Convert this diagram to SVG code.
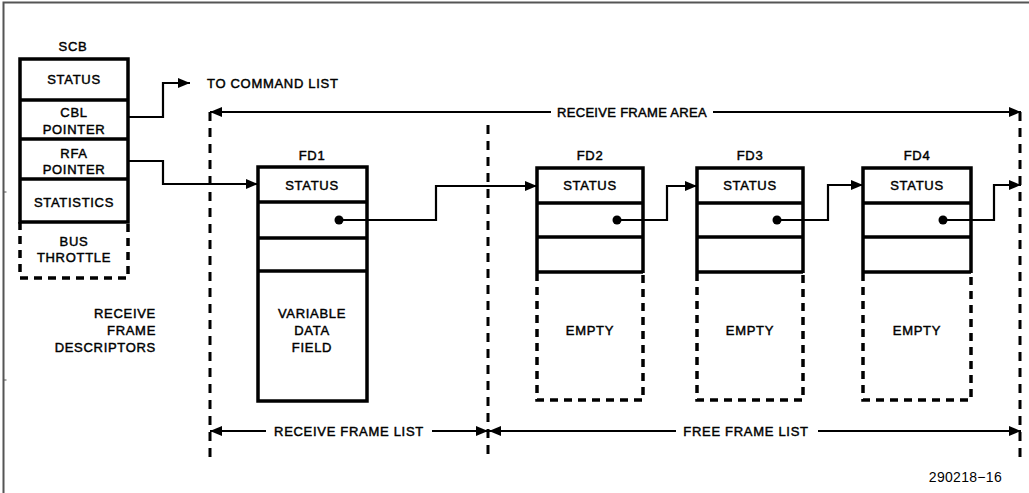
<svg xmlns="http://www.w3.org/2000/svg" width="1029" height="493" viewBox="0 0 1029 493">
<style>
text{font-family:"Liberation Sans",Arial,sans-serif;font-size:13px;fill:#000;stroke:#000;stroke-width:0.45;letter-spacing:0.7px}
.c{text-anchor:middle}
.r{text-anchor:end}
.t{letter-spacing:0.3px}
.n{stroke:none;letter-spacing:0.3px;font-size:14px}
.box{fill:none;stroke:#000;stroke-width:3.5}
.dbox{fill:none;stroke:#000;stroke-width:3.5;stroke-dasharray:8,6}
.vd{fill:none;stroke:#000;stroke-width:3;stroke-dasharray:9,7}
.ln{fill:none;stroke:#000;stroke-width:2.2}
.lna{fill:none;stroke:#000;stroke-width:2.2;marker-end:url(#ah)}
</style>
<defs>
<marker id="ah" markerUnits="userSpaceOnUse" markerWidth="12" markerHeight="10" refX="12" refY="5" orient="auto"><path d="M0,0 L12,5 L0,10 Z" fill="#000"/></marker>
<marker id="ahs" markerUnits="userSpaceOnUse" markerWidth="12" markerHeight="10" refX="0" refY="5" orient="auto"><path d="M12,0 L0,5 L12,10 Z" fill="#000"/></marker>
</defs>
<rect width="1029" height="493" fill="#fff"/>
<g id="frame" fill="none" stroke="#555" stroke-width="2">
<path d="M1029,2.5 H3.5 V493"/>
<path d="M3.5,192 h3 M3.5,380 h3" stroke-width="1"/>
</g>
<g id="scb">
<text class="c" x="73" y="51">SCB</text>
<rect class="box" x="20" y="59" width="108" height="163"/>
<path class="box" d="M20,100 H128 M20,139 H128 M20,179 H128"/>
<path class="dbox" d="M20,222 V278 H128 V222"/>
<text class="c" x="74" y="84">STATUS</text>
<text class="c" x="74" y="117">CBL</text>
<text class="c" x="74" y="134">POINTER</text>
<text class="c" x="74" y="158">RFA</text>
<text class="c" x="74" y="174">POINTER</text>
<text class="c" x="74" y="207">STATISTICS</text>
<text class="c" x="74" y="246">BUS</text>
<text class="c" x="74" y="262">THROTTLE</text>
</g>
<g id="labels">
<text x="207" y="88">TO COMMAND LIST</text>
<text class="r" x="156" y="318">RECEIVE</text>
<text class="r" x="156" y="335">FRAME</text>
<text class="r" x="156" y="352">DESCRIPTORS</text>
<text class="c t" x="632" y="117">RECEIVE FRAME AREA</text>
<text class="c" x="349" y="436">RECEIVE FRAME LIST</text>
<text class="c" x="746" y="436">FREE FRAME LIST</text>
<text class="r n" x="1002" y="482">290218−16</text>
</g>
<g id="fd1">
<text class="c" x="312" y="160">FD1</text>
<rect class="box" x="258" y="167" width="109" height="234"/>
<path class="box" d="M258,202 H367 M258,238 H367 M258,271 H367"/>
<text class="c" x="312" y="190">STATUS</text>
<circle cx="339" cy="220" r="4.5"/>
<text class="c" x="312" y="318">VARIABLE</text>
<text class="c" x="312" y="335">DATA</text>
<text class="c" x="312" y="352">FIELD</text>
</g>
<g id="fd2">
<text class="c" x="590" y="160">FD2</text>
<path class="box" d="M537,273 V168 H643 V273 M537,203 H643 M537,237 H643 M537,272 H643"/>
<path class="dbox" d="M537,273 V400 H643 V273"/>
<text class="c" x="590" y="190">STATUS</text>
<circle cx="617" cy="220" r="4.5"/>
<text class="c" x="590" y="335">EMPTY</text>
</g>
<g id="fd3">
<text class="c" x="750" y="160">FD3</text>
<path class="box" d="M697,273 V168 H803 V273 M697,203 H803 M697,237 H803 M697,272 H803"/>
<path class="dbox" d="M697,273 V400 H803 V273"/>
<text class="c" x="750" y="190">STATUS</text>
<circle cx="777" cy="220" r="4.5"/>
<text class="c" x="750" y="335">EMPTY</text>
</g>
<g id="fd4">
<text class="c" x="917" y="160">FD4</text>
<path class="box" d="M863,273 V168 H971 V273 M863,203 H971 M863,237 H971 M863,272 H971"/>
<path class="dbox" d="M863,273 V400 H971 V273"/>
<text class="c" x="917" y="190">STATUS</text>
<circle cx="943" cy="220" r="4.5"/>
<text class="c" x="917" y="335">EMPTY</text>
</g>
<g id="connectors">
<path class="vd" d="M210,112 V460"/>
<path class="vd" d="M488,125 V460"/>
<path class="vd" d="M1020,112 V460"/>
<path class="lna" d="M128,117 H163 V83 H190"/>
<path class="lna" d="M128,161 H163 V184 H258"/>
<path class="lna" d="M339,220 H436 V186 H537"/>
<path class="lna" d="M617,220 H667 V186 H697"/>
<path class="lna" d="M777,220 H828 V185 H863"/>
<path class="lna" d="M943,220 H994 V185 H1021"/>
<path class="ln" d="M210,112 H551" marker-start="url(#ahs)"/>
<path class="lna" d="M713,112 H1021"/>
<path class="ln" d="M210,431 H266" marker-start="url(#ahs)"/>
<path class="lna" d="M432,431 H488"/>
<path class="ln" d="M489,431 H676" marker-start="url(#ahs)"/>
<path class="lna" d="M818,431 H1021"/>
</g>
</svg>
